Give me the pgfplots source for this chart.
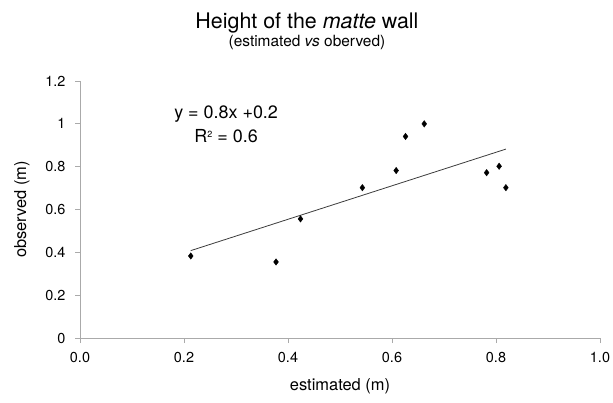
\documentclass[border=0pt]{standalone}
\usepackage{fontspec}
\setmainfont{TeX Gyre Heros}
\usepackage{pgfplots}
\pgfplotsset{compat=1.18}

\definecolor{axisgray}{RGB}{170,170,170}
\definecolor{fitgray}{RGB}{60,60,60}

\begin{document}
\begin{tikzpicture}
% page = 613 x 403 px, axis box from (80,81) to (600,338) px
\path[use as bounding box] (-80bp,-65bp) rectangle (533bp,338bp);
\begin{axis}[
    scale only axis,
    width=520bp, height=257bp,
    xmin=0, xmax=1,
    ymin=0, ymax=1.2,
    axis lines=left,
    axis line style={draw=axisgray, line width=0.8bp, -},
    tick align=outside,
    major tick length=5bp,
    tick style={draw=axisgray, line width=0.8bp},
    xtick={0,0.2,0.4,0.6,0.8,1.0},
    ytick={0,0.2,0.4,0.6,0.8,1,1.2},
    xticklabel style={/pgf/number format/fixed, /pgf/number format/precision=1,
        /pgf/number format/fixed zerofill, yshift=-6bp},
    yticklabel style={xshift=-6bp},
    /pgf/number format/assume math mode=true,
    ticklabel style={font=\fontsize{14.5}{17}\selectfont},
    label style={font=\fontsize{16.5}{19}\selectfont},
    xlabel={estimated (m)},
    ylabel={observed (m)},
    xlabel style={at={(rel axis cs:0.5,0)}, anchor=center, yshift=-48bp},
    ylabel style={at={(rel axis cs:0,0.5)}, anchor=center, rotate=0, yshift=58bp},
    clip=false,
]
% fitted trend line, end points
\addplot[fitgray, line width=0.8bp] coordinates {(0.213,0.408) (0.819,0.882)};
% observations
\addplot[only marks, mark=diamond*, mark size=3.2bp, black] coordinates {
    (0.213,0.383) (0.377,0.355) (0.424,0.556) (0.543,0.702) (0.608,0.782)
    (0.626,0.941) (0.662,1.000) (0.782,0.772) (0.806,0.802) (0.819,0.702)
};
\node[anchor=base, font=\fontsize{18}{21}\selectfont] at (axis cs:0.281,1.023) {y = 0.8x +0.2};
\node[anchor=base, font=\fontsize{18}{21}\selectfont] at (axis cs:0.281,0.911) {R\raisebox{0.62ex}{\fontsize{9}{10}\selectfont 2} = 0.6};
\node[anchor=base, font=\fontsize{21.5}{25}\selectfont] at (rel axis cs:0.4365,1) [yshift=52bp] {Height of the \textit{matte} wall};
\node[anchor=base, font=\fontsize{15.5}{18}\selectfont] at (rel axis cs:0.4365,1) [yshift=34bp] {(estimated \textit{vs} oberved)};
\end{axis}
\end{tikzpicture}
\end{document}
